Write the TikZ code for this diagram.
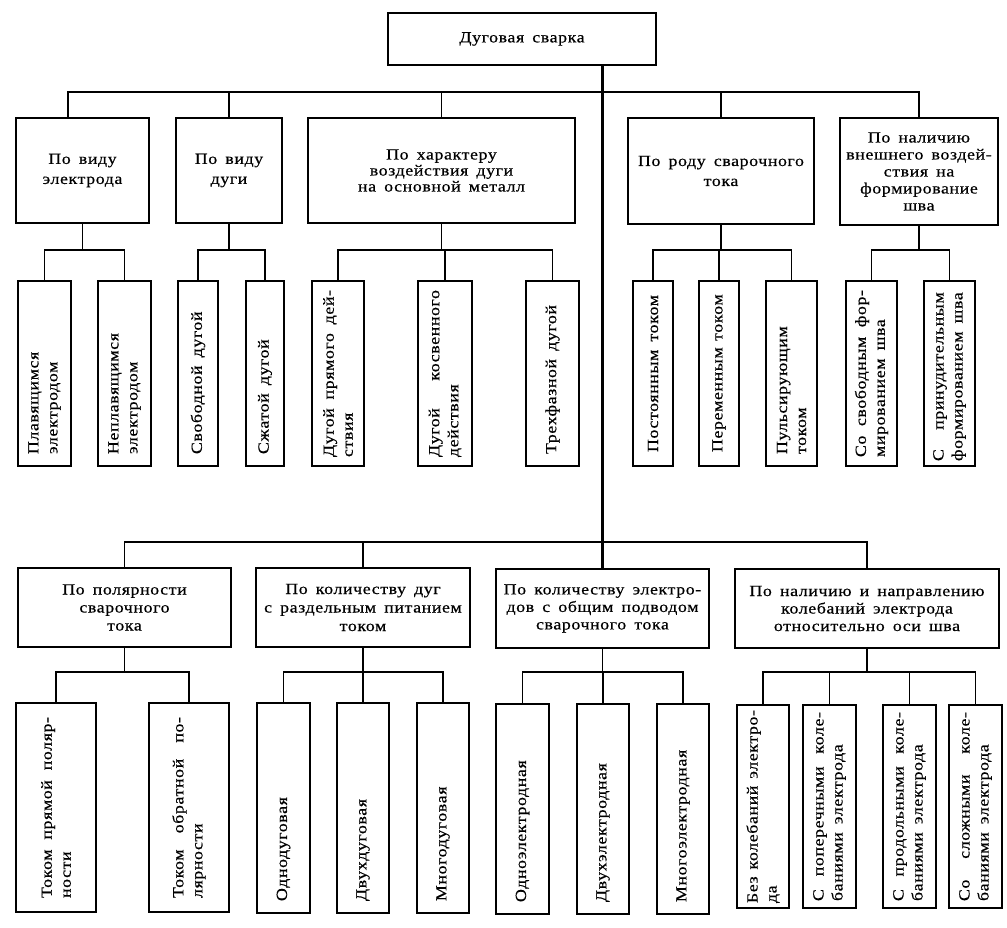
\documentclass[tikz,border=0pt]{standalone}
\usepackage{fontspec}
\setmainfont{Liberation Serif}[FakeStretch=1.15,FakeBold=0.5,LetterSpace=4,WordSpace={1.6,1,1}]
\newcommand{\fs}{\fontsize{15.5}{19}\selectfont}
\newlength{\jw}
\newcommand{\jline}[1]{\makebox[\jw][s]{#1}}
\tikzset{
  box/.style={draw, line width=1.2pt, inner sep=1pt, align=center, font=\fs},
  vbox/.style={draw, line width=1.2pt, rotate=90, inner ysep=0pt, align=left, font=\fs},
  conn/.style={line width=1.1pt},
  trunk/.style={line width=2.8pt},
}
\newcommand{\hb}[7][]{\node[box,#1,minimum width={#4-#3},minimum height={#6-#5}] (#2) at ({(#3+#4)/2},{(#5+#6)/2+2}) {\spaceskip=0pt\xspaceskip=0pt\relax #7};}
\newcommand{\vb}[7][12]{\node[vbox,minimum width={#6-#5},minimum height={#4-#3},inner xsep=#1pt,text width={#6-#5-2*#1}] (#2) at ({(#3+#4)/2},{(#5+#6)/2}) {\pgfmathsetlength{\jw}{#6-#5-2*#1}\spaceskip=0pt\xspaceskip=0pt\relax #7};}
\begin{document}
\begin{tikzpicture}[x=1pt,y=-1pt]
\fill[white] (0,0) rectangle (1007,928);
\useasboundingbox (0,0) rectangle (1007,928);

% root
\hb{T}{388}{656}{11}{63}{Дуговая сварка}

% upper level
\hb[font={\fontsize{15.5}{20}\selectfont}]{A1}{16}{149}{116}{221}{По виду\\электрода}
\hb[font={\fontsize{15.5}{20}\selectfont}]{A2}{176}{282}{116}{221}{По виду\\дуги}
\hb[font={\fontsize{15.5}{16}\selectfont}]{A3}{308}{575}{116}{221}{По характеру\\воздействия дуги\\на основной металл}
\hb[font={\fontsize{15.5}{20}\selectfont}]{A4}{628}{814}{116}{222}{По роду сварочного\\тока}
\hb[font={\fontsize{15.5}{17}\selectfont}]{A5}{840}{998}{116}{223}{По наличию\\внешнего воздей-\\ствия на\\формирование\\шва}

% upper children
\vb{C11}{18}{71}{281}{466}{Плавящимся\\электродом}
\vb{C12}{98}{151}{281}{466}{Неплавящимся\\электродом}
\vb{C21}{178}{218}{281}{466}{Свободной дугой}
\vb{C22}{246}{284}{281}{466}{Сжатой дугой}
\vb[9]{C31}{312}{364}{281}{466}{\jline{Дугой прямого дей-}\\ствия}
\vb[9]{C32}{418}{472}{281}{466}{\jline{Дугой косвенного}\\действия}
\vb{C33}{526}{579}{281}{466}{Трехфазной дугой}
\vb[14]{C41}{633}{673}{281}{466}{\jline{Постоянным током}}
\vb[14]{C42}{699}{739}{281}{466}{\jline{Переменным током}}
\vb{C43}{766}{817}{281}{466}{Пульсирующим\\током}
\vb[9]{C51}{846}{897}{281}{466}{\jline{Со свободным фор-}\\мированием шва}
\vb[5]{C52}{924}{975}{281}{466}{\settowidth{\jw}{формированием шва}\jline{С принудительным}\\формированием шва}

% lower level
\hb[font={\fontsize{15.5}{18}\selectfont}]{B1}{18}{231}{566}{645}{По полярности\\сварочного\\тока}
\hb[font={\fontsize{15.5}{18.5}\selectfont}]{B2}{256}{470}{566}{645}{По количеству дуг\\с раздельным питанием\\током}
\hb[font={\fontsize{15.5}{17.5}\selectfont}]{B3}{496}{709}{567}{646}{По количеству электро-\\дов с общим подводом\\сварочного тока}
\hb[font={\fontsize{15.5}{17.5}\selectfont}]{B4}{735}{999}{567}{646}{По наличию и направлению\\колебаний электрода\\относительно оси шва}

% lower children
\vb[14]{D11}{16}{96}{703}{912}{\jline{Током прямой поляр-}\\ности}
\vb[14]{D12}{149}{229}{703}{912}{\jline{Током обратной по-}\\лярности}
\vb{D21}{257}{310}{703}{913}{Однодуговая}
\vb{D22}{337}{389}{703}{913}{Двухдуговая}
\vb{D23}{417}{469}{703}{913}{Многодуговая}
\vb{D31}{496}{549}{704}{914}{Одноэлектродная}
\vb{D32}{577}{629}{704}{914}{Двухэлектродная}
\vb{D33}{657}{709}{704}{914}{Многоэлектродная}
\vb[5]{D41}{737}{789}{705}{908}{\jline{Без колебаний электро-}\\да}
\vb[7]{D42}{803}{856}{705}{908}{\jline{С поперечными коле-}\\баниями электрода}
\vb[7]{D43}{883}{936}{705}{908}{\jline{С продольными коле-}\\баниями электрода}
\vb[7]{D44}{949}{1002}{705}{908}{\jline{Со сложными коле-}\\баниями электрода}

% bus coordinates
\coordinate (busA) at (0,92);
\coordinate (busC) at (0,250);
\coordinate (busB) at (0,542);
\coordinate (busD) at (0,672);

% trunk
\draw[trunk] (B3.north |- T.south) -- (B3.north);

% upper bus
\draw[conn] ([xshift=-14.5pt]A1.north) |- (busA -| A5.north) -- (A5.north);
\foreach \n in {A2,A3,A4} \draw[conn] (\n.north) -- (\n.north |- busA);

% upper children connectors
\foreach \n in {A1,A2,A3,A4,A5} \draw[conn] (\n.south) -- (\n.south |- busC);
\draw[conn] (C11.east) |- (busC -| C12.east) -- (C12.east);
\draw[conn] (C21.east) |- (busC -| C22.east) -- (C22.east);
\draw[conn] (C31.east) |- (busC -| C33.east) -- (C33.east);
\draw[conn] (C32.east) -- (C32.east |- busC);
\draw[conn] (C41.east) |- (busC -| C43.east) -- (C43.east);
\draw[conn] (C42.east) -- (C42.east |- busC);
\draw[conn] (C51.east) |- (busC -| C52.east) -- (C52.east);

% lower bus
\draw[conn] (B1.north) |- (busB -| B4.north) -- (B4.north);
\draw[conn] (B2.north) -- (B2.north |- busB);

% lower children connectors
\foreach \n in {B1,B2,B3,B4} \draw[conn] (\n.south) -- (\n.south |- busD);
\draw[conn] (D11.east) |- (busD -| D12.east) -- (D12.east);
\draw[conn] (D21.east) |- (busD -| D23.east) -- (D23.east);
\draw[conn] (D22.east) -- (D22.east |- busD);
\draw[conn] (D31.east) |- (busD -| D33.east) -- (D33.east);
\draw[conn] (D32.east) -- (D32.east |- busD);
\draw[conn] (D41.east) |- (busD -| D44.east) -- (D44.east);
\foreach \n in {D42,D43} \draw[conn] (\n.east) -- (\n.east |- busD);
\end{tikzpicture}
\end{document}
